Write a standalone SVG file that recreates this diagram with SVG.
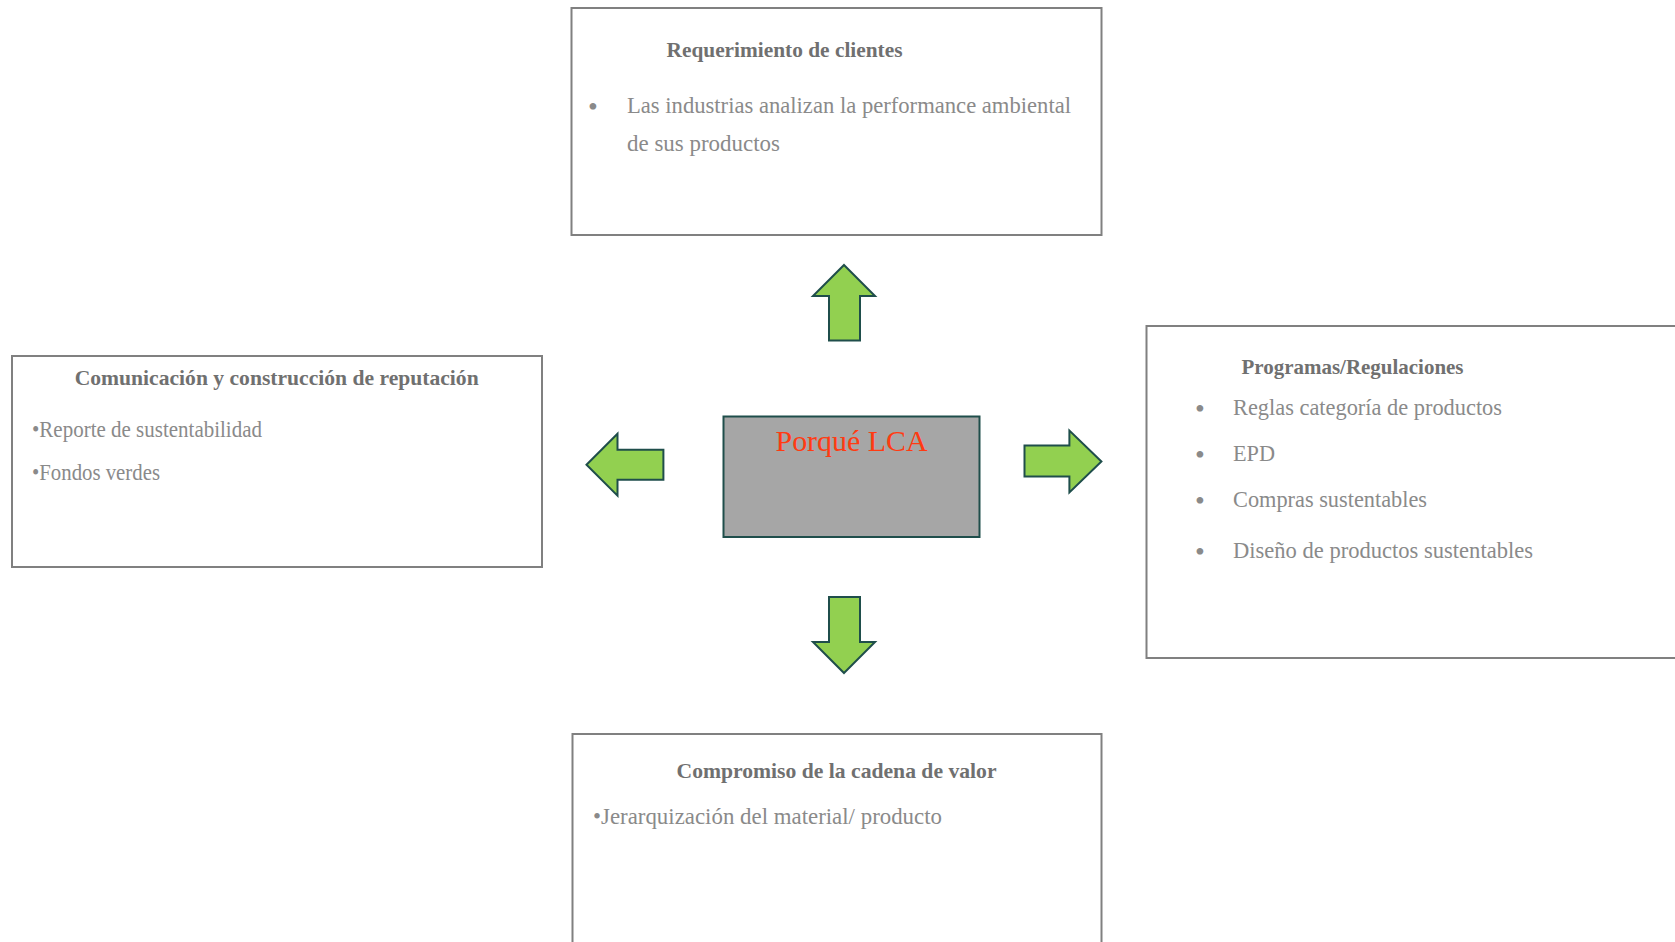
<svg xmlns="http://www.w3.org/2000/svg" width="1675" height="942" viewBox="0 0 1675 942">
<style>
.box{fill:#ffffff;stroke:#808080;stroke-width:2}
.t{font-family:"Liberation Serif",serif;font-weight:bold;font-size:22px;fill:#707070}
.b{font-family:"Liberation Serif",serif;font-size:23px;fill:#8a8a8a}
.dot{font-family:"Liberation Serif",serif;font-size:28px;fill:#8a8a8a}
.arr{fill:#92D050;stroke:#1F4E4B;stroke-width:2;stroke-linejoin:miter}
.ctr{fill:#A6A6A6;stroke:#1F4E4B;stroke-width:2}
.ct{font-family:"Liberation Serif",serif;font-size:30px;fill:#FF3B12}
</style>
<rect width="1675" height="942" fill="#ffffff"/>
<g id="top">
<rect class="box" x="571.5" y="8" width="530" height="227"/>
<text class="t" x="666.5" y="57" textLength="236" lengthAdjust="spacingAndGlyphs">Requerimiento de clientes</text>
<text class="dot" x="588" y="116">•</text>
<text class="b" x="627" y="113" textLength="444" lengthAdjust="spacingAndGlyphs">Las industrias analizan la performance ambiental</text>
<text class="b" x="627" y="151" textLength="153" lengthAdjust="spacingAndGlyphs">de sus productos</text>
</g>
<g id="left">
<rect class="box" x="12" y="356" width="530" height="211"/>
<text class="t" x="276.7" y="385" text-anchor="middle" textLength="404" lengthAdjust="spacingAndGlyphs">Comunicación y construcción de reputación</text>
<text class="b" x="32" y="437" textLength="230" lengthAdjust="spacingAndGlyphs">•Reporte de sustentabilidad</text>
<text class="b" x="32" y="480" textLength="128" lengthAdjust="spacingAndGlyphs">•Fondos verdes</text>
</g>
<g id="right">
<rect class="box" x="1146.5" y="326" width="532" height="332"/>
<text class="t" x="1241.5" y="374" textLength="222" lengthAdjust="spacingAndGlyphs">Programas/Regulaciones</text>
<text class="dot" x="1195" y="418">•</text>
<text class="b" x="1233" y="415" textLength="269" lengthAdjust="spacingAndGlyphs">Reglas categoría de productos</text>
<text class="dot" x="1195" y="463.5">•</text>
<text class="b" x="1233" y="460.5" textLength="42" lengthAdjust="spacingAndGlyphs">EPD</text>
<text class="dot" x="1195" y="509.5">•</text>
<text class="b" x="1233" y="506.5" textLength="194" lengthAdjust="spacingAndGlyphs">Compras sustentables</text>
<text class="dot" x="1195" y="561">•</text>
<text class="b" x="1233" y="558" textLength="300" lengthAdjust="spacingAndGlyphs">Diseño de productos sustentables</text>
</g>
<g id="bottom">
<rect class="box" x="572.5" y="734" width="529" height="220"/>
<text class="t" x="836.5" y="778" text-anchor="middle" textLength="320" lengthAdjust="spacingAndGlyphs">Compromiso de la cadena de valor</text>
<text class="b" x="593" y="824" textLength="349" lengthAdjust="spacingAndGlyphs">•Jerarquización del material/ producto</text>
</g>
<g id="center">
<rect class="ctr" x="723.5" y="416.5" width="256" height="120.5"/>
<text class="ct" x="851.5" y="451" text-anchor="middle" textLength="152" lengthAdjust="spacingAndGlyphs">Porqué LCA</text>
</g>
<g id="connectors">
<polygon class="arr" points="844,265 875,296 860,296 860,340.5 829,340.5 829,296 813,296"/>
<polygon class="arr" points="844,673 875,642 860,642 860,597 829,597 829,642 813,642"/>
<polygon class="arr" points="586.5,464.7 617.5,433.7 617.5,449.8 663.4,449.8 663.4,479.7 617.5,479.7 617.5,495.7"/>
<polygon class="arr" points="1101.4,461.5 1069.4,430.5 1069.4,445.5 1024.5,445.5 1024.5,476.5 1069.4,476.5 1069.4,492.5"/>
</g>
</svg>
